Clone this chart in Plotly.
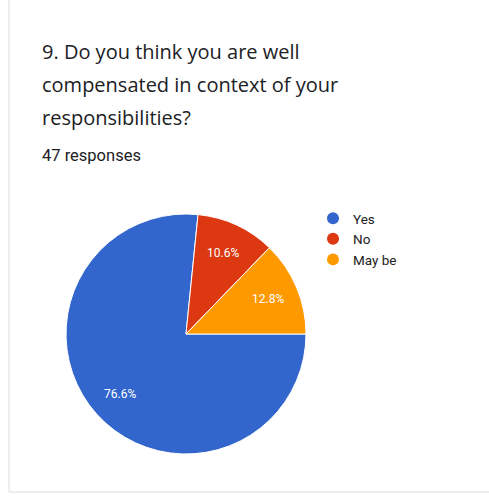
import math
import plotly.graph_objects as go

labels = ["Yes", "No", "May be"]
values = [36, 5, 6]
colors = ["#3366cc", "#dc3912", "#ff9900"]
title_lines = ["9. Do you think you are well", "compensated in context of your", "responsibilities?"]
subtitle = "47 responses"

W, H = 489, 500
cx, cy, R = 186, 334, 120  # pie centre and radius in pixels
fig = go.Figure()
fig.add_trace(go.Pie(
    labels=labels, values=values, sort=False, direction="clockwise", rotation=90,
    marker=dict(colors=colors, line=dict(color="white", width=1)),
    textinfo="none",
    domain=dict(x=[(cx - R) / W, (cx + R) / W], y=[1 - (cy + R) / H, 1 - (cy - R) / H]),
    showlegend=False, hoverinfo="label+percent",
))
# percentage labels placed like Google Charts, from the slice mid-angles
total = sum(values)
start = 90.0
for v in values:
    span = 360.0 * v / total
    mid = math.radians(start + span / 2)
    r = 0.74 * R
    px = cx + r * math.sin(mid)
    py = cy - r * math.cos(mid)
    fig.add_annotation(text=f"{100 * v / total:.1f}%", x=px / W, y=1 - py / H,
                       xref="paper", yref="paper", showarrow=False,
                       xanchor="center", yanchor="middle",
                       font=dict(family="Roboto", size=12, color="white"))
    start += span

for lab, col in zip(labels, colors):
    fig.add_trace(go.Scatter(x=[None], y=[None], mode="markers", name=lab,
                             marker=dict(color=col, size=12, symbol="circle")))

ys = [52, 84, 117]
for line, y in zip(title_lines, ys):
    fig.add_annotation(text=line, x=40 / W, y=1 - y / H, xref="paper", yref="paper",
                       xanchor="left", yanchor="middle", showarrow=False,
                       font=dict(family="Open Sans", size=20, color="#202124"))
fig.add_annotation(text=subtitle, x=40 / W, y=1 - 155 / H, xref="paper", yref="paper",
                   xanchor="left", yanchor="middle", showarrow=False,
                   font=dict(family="Roboto", size=16.5, color="#202124"))

fig.add_shape(type="rect", xref="paper", yref="paper", x0=9 / W, x1=1.02, y0=1 - 492 / H, y1=1.02,
              line=dict(color="#dadce0", width=1))

fig.update_layout(
    width=W, height=H, margin=dict(l=0, r=0, t=0, b=0),
    paper_bgcolor="white", plot_bgcolor="white",
    xaxis=dict(visible=False), yaxis=dict(visible=False),
    legend=dict(x=313 / W, y=1 - 203 / H, xanchor="left", yanchor="top",
                font=dict(family="Roboto", size=13.5, color="#222222"),
                itemsizing="trace", tracegroupgap=0, bgcolor="rgba(0,0,0,0)"),
)
fig.write_html("out.html")
